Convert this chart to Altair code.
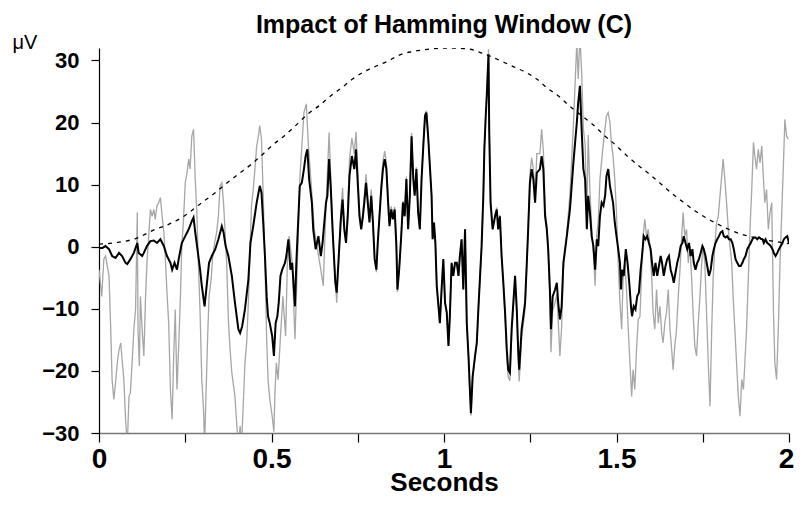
import altair as alt
import pandas as pd

# ---- data ----
gray_t = [0.000, 0.008, 0.014, 0.019, 0.029, 0.034, 0.038, 0.043, 0.048, 0.053, 0.058, 0.063, 0.067, 0.072, 0.077, 0.082,
          0.087, 0.091, 0.096, 0.101, 0.106, 0.111, 0.113, 0.117, 0.120, 0.125, 0.130, 0.135, 0.139, 0.144, 0.149, 0.154,
          0.159, 0.163, 0.168, 0.173, 0.178, 0.183, 0.188, 0.192, 0.197, 0.202, 0.207, 0.212, 0.216, 0.221, 0.226, 0.231,
          0.236, 0.240, 0.245, 0.250, 0.255, 0.260, 0.264, 0.269, 0.274, 0.279, 0.284, 0.288, 0.293, 0.298, 0.303, 0.306,
          0.310, 0.315, 0.319, 0.325, 0.329, 0.335, 0.341, 0.346, 0.351, 0.356, 0.361, 0.365, 0.370, 0.375, 0.380, 0.385,
          0.394, 0.399, 0.404, 0.409, 0.413, 0.418, 0.423, 0.428, 0.433, 0.438, 0.442, 0.447, 0.452, 0.457, 0.462, 0.466,
          0.471, 0.476, 0.481, 0.486, 0.490, 0.495, 0.502, 0.507, 0.510, 0.514, 0.519, 0.526, 0.533, 0.541, 0.546, 0.551,
          0.560, 0.568, 0.572, 0.578, 0.582, 0.588, 0.594, 0.601, 0.607, 0.614, 0.624, 0.633, 0.643, 0.650, 0.658, 0.667,
          0.672, 0.679, 0.689, 0.695, 0.701, 0.706, 0.711, 0.716, 0.721, 0.726, 0.733, 0.740, 0.745, 0.750, 0.755, 0.760,
          0.765, 0.769, 0.774, 0.779, 0.784, 0.789, 0.794, 0.799, 0.804, 0.808, 0.813, 0.818, 0.823, 0.828, 0.833, 0.838,
          0.842, 0.847, 0.852, 0.857, 0.862, 0.865, 0.870, 0.876, 0.881, 0.886, 0.891, 0.896, 0.901, 0.906, 0.911, 0.915,
          0.920, 0.925, 0.930, 0.935, 0.940, 0.945, 0.949, 0.954, 0.964, 0.967, 0.971, 0.975, 0.979, 0.984, 0.988, 0.993,
          0.998, 1.003, 1.008, 1.013, 1.017, 1.022, 1.027, 1.032, 1.037, 1.042, 1.046, 1.051, 1.056, 1.061, 1.066, 1.071,
          1.075, 1.078, 1.083, 1.090, 1.095, 1.100, 1.104, 1.109, 1.114, 1.117, 1.121, 1.124, 1.129, 1.131, 1.135, 1.141,
          1.148, 1.153, 1.157, 1.162, 1.167, 1.172, 1.177, 1.182, 1.186, 1.191, 1.196, 1.201, 1.206, 1.211, 1.215, 1.218,
          1.225, 1.230, 1.235, 1.240, 1.244, 1.249, 1.254, 1.259, 1.264, 1.269, 1.278, 1.283, 1.288, 1.293, 1.298, 1.302,
          1.307, 1.310, 1.315, 1.322, 1.327, 1.331, 1.336, 1.341, 1.346, 1.356, 1.365, 1.375, 1.385, 1.389, 1.394, 1.399,
          1.404, 1.409, 1.414, 1.418, 1.423, 1.428, 1.433, 1.438, 1.443, 1.447, 1.452, 1.461, 1.471, 1.476, 1.481, 1.485,
          1.490, 1.495, 1.500, 1.505, 1.510, 1.515, 1.519, 1.524, 1.529, 1.534, 1.539, 1.544, 1.548, 1.553, 1.558, 1.563,
          1.568, 1.573, 1.577, 1.582, 1.587, 1.592, 1.597, 1.602, 1.606, 1.611, 1.616, 1.621, 1.626, 1.631, 1.635, 1.640,
          1.645, 1.650, 1.655, 1.660, 1.664, 1.669, 1.674, 1.679, 1.684, 1.689, 1.693, 1.698, 1.703, 1.708, 1.713, 1.718,
          1.722, 1.727, 1.732, 1.737, 1.742, 1.747, 1.751, 1.756, 1.761, 1.766, 1.771, 1.776, 1.780, 1.785, 1.790, 1.795,
          1.800, 1.805, 1.809, 1.814, 1.819, 1.824, 1.829, 1.834, 1.838, 1.843, 1.848, 1.853, 1.858, 1.863, 1.868, 1.872,
          1.877, 1.882, 1.887, 1.892, 1.897, 1.901, 1.906, 1.911, 1.916, 1.921, 1.926, 1.930, 1.935, 1.940, 1.945, 1.950,
          1.955, 1.959, 1.964, 1.969, 1.974, 1.979, 1.984, 1.988, 1.993, 1.998]
gray_v = [-3.7, -8.0, -2.0, -1.5, -4.7, -13.3, -21.4, -24.6, -21.9, -18.7, -16.6, -15.5, -18.2, -21.4, -27.8, -32.0,
          -24.1, -23.5, -18.7, -13.3, -10.1, 5.5, -13.3, -19.2, -8.0, -13.3, -17.6, -8.0, -2.6, 1.7, 6.0, 4.9,
          6.0, 4.4, 6.6, 7.1, 7.9, 4.9, 2.3, -1.5, -7.4, -12.3, -23.0, -27.8, -18.7, -10.1, -23.0, -16.0,
          -8.0, 0.1, 4.4, 10.3, 11.9, 14.1, 12.5, 17.8, 18.9, 10.9, 4.9, -2.6, -10.6, -21.4, -26.2, -32.0,
          -24.1, -14.4, -8.0, -5.3, -2.0, 0.6, 2.3, 4.9, 9.8, 10.3, 7.1, 2.8, -2.6, -11.7, -16.6, -20.3,
          -24.1, -28.4, -32.0, -28.9, -32.0, -25.7, -18.7, -15.5, -9.0, 0.1, 6.6, 9.2, 12.5, 16.2, 17.8, 19.5,
          17.3, 8.2, -2.6, -14.9, -21.4, -24.5, -27.3, -29.8, -23.5, -18.7, -21.4, -14.4, -8.0, -14.4, -2.6, 1.7,
          -2.6, -14.9, -8.0, 2.8, 10.9, 16.2, 21.6, 23.0, 16.2, 10.9, 2.8, -0.4, -3.7, -6.3, 6.6, 18.4,
          10.9, 0.1, -9.0, -2.0, 5.5, 9.5, 3.5, 0.8, 6.0, 14.0, 17.5, 15.0, 18.5, 12.0, 5.7, 3.2,
          5.6, 8.1, 11.7, 8.0, 4.4, 9.2, 4.4, -2.2, -4.1, 0.7, 5.4, 10.1, 13.7, 15.4, 13.6, 7.7,
          3.6, 6.5, 4.7, 6.4, 0.1, -7.3, -3.9, 1.8, 7.4, 5.1, 11.3, 2.9, 8.5, 18.3, 11.2, 8.4,
          12.8, 5.6, 2.9, 11.1, 16.5, 21.4, 21.9, 18.0, 8.3, 1.2, 3.9, 0.6, -6.3, -9.6, -12.3, -6.9,
          -2.0, -9.0, -10.6, -16.0, -11.2, -2.6, -4.7, -2.6, -2.6, -4.7, -1.5, 1.2, -6.9, 2.8, -12.4, -17.8,
          -23.3, -27.2, -21.2, -17.9, -15.8, -9.8, -5.4, 0.1, 8.4, 16.1, 21.6, 24.9, 31.8, 19.4, 7.3, 2.9,
          5.1, 6.3, 2.9, 5.1, -1.6, -6.1, -11.2, -17.6, -21.0, -21.6, -14.2, -9.7, -5.1, -11.0, -18.1, -21.7,
          -14.7, -12.4, -10.0, -2.9, 3.2, 11.7, 14.3, 12.5, 8.2, 15.0, 15.0, 18.9, 15.5, 6.1, 3.5, -0.5,
          -8.8, -17.0, -10.3, -9.0, -7.6, -11.9, -17.6, -12.9, -3.5, 2.3, 8.4, 19.5, 33.0, 27.0, 34.0, 28.0,
          19.0, 16.5, 4.5, 18.0, 9.0, 3.0, -1.0, -6.3, 2.0, 4.0, 10.9, 16.2, 21.1, 21.6, 20.0, 16.8,
          14.6, 10.9, 5.5, -2.6, -9.0, -13.3, -5.3, -2.6, -6.9, -13.3, -18.7, -24.1, -19.8, -23.0, -16.6, -11.7,
          -11.2, -3.7, 1.7, 4.4, 1.7, 2.8, 0.1, -4.7, -10.6, -13.3, -6.9, -12.3, -9.6, -13.9, -15.5, -12.3,
          -10.6, -6.9, -13.3, -16.6, -19.8, -16.0, -13.3, -8.0, -3.7, 1.7, 5.5, 1.7, 2.8, -2.6, 0.1, -5.3,
          -10.6, -16.0, -17.6, -12.3, -8.0, -2.6, 0.1, -2.6, -10.6, -18.7, -25.7, -13.3, -5.3, 0.1, 3.9, 4.9,
          8.2, 11.4, 14.1, 10.9, 7.1, 2.8, 0.1, -2.6, -8.0, -13.3, -18.7, -24.1, -27.3, -21.4, -23.0, -18.7,
          -13.3, -5.3, 2.8, 9.2, 16.8, 14.6, 12.5, 15.7, 13.5, 16.2, 10.9, 7.1, 9.2, 2.8, 5.5, 7.1,
          -10.6, -18.7, -21.4, -13.3, -2.6, 5.5, 13.5, 20.5, 17.8, 17.3]

black_t = [0.000, 0.010, 0.019, 0.029, 0.038, 0.048, 0.058, 0.067, 0.077, 0.082, 0.091, 0.101, 0.111, 0.115, 0.125, 0.130,
           0.139, 0.149, 0.159, 0.168, 0.178, 0.188, 0.197, 0.207, 0.212, 0.219, 0.226, 0.231, 0.240, 0.250, 0.260, 0.269,
           0.274, 0.279, 0.288, 0.293, 0.298, 0.306, 0.313, 0.319, 0.327, 0.337, 0.346, 0.356, 0.361, 0.367, 0.375, 0.385,
           0.394, 0.404, 0.409, 0.415, 0.423, 0.433, 0.439, 0.447, 0.457, 0.466, 0.471, 0.476, 0.481, 0.486, 0.490, 0.495,
           0.502, 0.507, 0.512, 0.517, 0.521, 0.526, 0.531, 0.539, 0.543, 0.549, 0.555, 0.560, 0.568, 0.572, 0.578, 0.582,
           0.588, 0.594, 0.599, 0.604, 0.609, 0.617, 0.621, 0.628, 0.636, 0.643, 0.648, 0.653, 0.658, 0.662, 0.667, 0.672,
           0.677, 0.685, 0.689, 0.695, 0.701, 0.706, 0.711, 0.716, 0.721, 0.726, 0.733, 0.740, 0.745, 0.750, 0.755, 0.760,
           0.765, 0.769, 0.774, 0.779, 0.784, 0.789, 0.794, 0.799, 0.804, 0.808, 0.813, 0.818, 0.823, 0.828, 0.833, 0.838,
           0.842, 0.847, 0.852, 0.857, 0.862, 0.865, 0.870, 0.876, 0.881, 0.886, 0.891, 0.896, 0.901, 0.906, 0.911, 0.915,
           0.920, 0.925, 0.930, 0.935, 0.940, 0.945, 0.949, 0.954, 0.964, 0.967, 0.971, 0.975, 0.979, 0.984, 0.988, 0.993,
           0.998, 1.003, 1.008, 1.013, 1.017, 1.022, 1.027, 1.032, 1.037, 1.042, 1.046, 1.051, 1.056, 1.061, 1.066, 1.071,
           1.075, 1.078, 1.083, 1.090, 1.095, 1.100, 1.104, 1.109, 1.114, 1.117, 1.121, 1.124, 1.129, 1.131, 1.135, 1.141,
           1.148, 1.153, 1.157, 1.162, 1.167, 1.172, 1.177, 1.182, 1.186, 1.191, 1.196, 1.201, 1.206, 1.211, 1.215, 1.218,
           1.225, 1.230, 1.235, 1.240, 1.244, 1.249, 1.254, 1.259, 1.264, 1.269, 1.278, 1.283, 1.288, 1.293, 1.298, 1.302,
           1.307, 1.310, 1.315, 1.322, 1.327, 1.331, 1.336, 1.341, 1.346, 1.356, 1.365, 1.375, 1.385, 1.389, 1.394, 1.399,
           1.404, 1.409, 1.414, 1.418, 1.423, 1.428, 1.433, 1.438, 1.443, 1.447, 1.452, 1.457, 1.462, 1.467, 1.471, 1.476,
           1.481, 1.490, 1.495, 1.500, 1.505, 1.510, 1.513, 1.516, 1.521, 1.527, 1.532, 1.537, 1.542, 1.545, 1.550, 1.555,
           1.560, 1.565, 1.570, 1.574, 1.579, 1.584, 1.589, 1.594, 1.599, 1.603, 1.608, 1.613, 1.618, 1.623, 1.628, 1.632,
           1.637, 1.642, 1.647, 1.652, 1.657, 1.662, 1.666, 1.671, 1.676, 1.681, 1.686, 1.691, 1.695, 1.700, 1.705, 1.710,
           1.715, 1.720, 1.724, 1.729, 1.734, 1.739, 1.744, 1.749, 1.753, 1.758, 1.763, 1.768, 1.773, 1.778, 1.782, 1.787,
           1.792, 1.797, 1.802, 1.807, 1.811, 1.816, 1.821, 1.826, 1.831, 1.836, 1.840, 1.845, 1.850, 1.855, 1.860, 1.865,
           1.869, 1.874, 1.879, 1.884, 1.889, 1.894, 1.898, 1.903, 1.908, 1.913, 1.918, 1.923, 1.927, 1.932, 1.937, 1.942,
           1.947, 1.952, 1.956, 1.961, 1.966, 1.971, 1.976, 1.981, 1.985, 1.990, 1.995, 2.000]
black_v = [-0.2, -0.2, 0.1, -0.4, -1.5, -1.8, -1.0, -1.5, -2.6, -2.8, -2.0, -1.0, 0.6, -1.0, -1.5, -1.0,
           0.1, 0.9, 1.0, 0.6, 1.2, 0.1, -1.5, -2.6, -3.7, -2.6, -3.7, -2.0, 0.6, 1.7, 2.8, 4.1,
           4.7, 2.3, -1.5, -3.7, -6.3, -9.6, -5.8, -2.6, -1.5, -0.4, 1.2, 3.3, 2.3, 0.1, -1.5, -4.7,
           -9.0, -13.3, -13.9, -12.8, -10.1, -5.3, 0.6, 3.3, 7.1, 9.8, 8.7, 3.9, -1.5, -8.0, -11.2, -12.3,
           -14.4, -17.6, -12.3, -11.2, -9.0, -4.7, -3.7, -2.6, -1.5, 1.2, -3.7, -2.6, -9.6, -2.6, 4.9, 9.8,
           10.3, 12.5, 14.6, 15.7, 10.9, 7.1, 2.8, -0.4, 1.7, -1.5, 0.6, 3.9, 7.1, 8.2, 14.1, 9.2,
           2.8, -5.8, -7.4, -1.5, 4.4, 7.6, 2.8, 0.6, 4.9, 11.4, 14.6, 12.5, 15.7, 10.3, 4.9, 2.8,
           4.9, 7.1, 10.3, 7.1, 3.9, 8.2, 3.9, -2.0, -3.7, 0.6, 4.9, 9.2, 12.5, 14.1, 12.5, 7.1,
           3.3, 6.0, 4.4, 6.0, 0.1, -6.9, -3.7, 1.7, 7.1, 4.9, 10.9, 2.8, 8.2, 17.8, 10.9, 8.2,
           12.5, 5.5, 2.8, 10.9, 16.2, 21.1, 21.6, 17.8, 8.2, 1.2, 3.9, 0.6, -6.3, -9.6, -12.3, -6.9,
           -2.0, -9.0, -10.6, -16.0, -11.2, -2.6, -4.7, -2.6, -2.6, -4.7, -1.5, 1.2, -6.9, 2.8, -12.3, -17.6,
           -23.0, -26.8, -20.9, -17.6, -15.5, -9.6, -5.3, 0.1, 8.2, 15.7, 21.1, 24.3, 31.0, 18.9, 7.1, 2.8,
           4.9, 6.0, 2.8, 4.9, -1.5, -5.8, -10.6, -16.6, -19.8, -20.3, -13.3, -9.0, -4.7, -10.1, -16.6, -19.8,
           -13.3, -11.2, -9.0, -2.6, 2.8, 10.3, 12.5, 10.9, 7.1, 11.9, 12.5, 14.6, 12.5, 4.9, 2.8, -0.4,
           -6.9, -13.3, -8.0, -6.9, -5.8, -9.0, -11.7, -9.6, -2.6, 1.7, 6.0, 13.5, 20.0, 23.2, 25.9, 18.9,
           12.5, 10.9, 2.8, 8.2, 5.5, 1.7, 0.1, -3.7, 1.2, 0.1, 4.9, 7.1, 6.6, 8.2, 11.4, 12.5,
           9.8, 7.1, 3.9, 1.7, -0.4, -2.6, -6.9, -3.7, -4.7, -0.4, -2.6, -5.8, -9.6, -11.2, -9.6, -10.1,
           -8.0, -7.4, -3.7, -1.5, 1.7, 1.2, 1.7, 0.6, -0.4, -2.6, -4.7, -2.6, -4.7, -3.1, -1.5, -2.6,
           -4.7, -3.1, -2.0, -1.5, -3.7, -4.7, -5.8, -4.2, -2.6, -1.5, 0.1, 0.6, 1.7, 0.6, -0.4, 0.6,
           -1.5, -0.4, -2.6, -3.7, -2.6, -2.0, -1.0, 0.1, -0.4, -1.5, -3.1, -4.7, -3.7, -1.5, -0.4, 0.6,
           1.2, 1.7, 2.3, 2.5, 1.7, 1.5, 1.7, 1.2, 1.2, 0.6, -0.4, -2.0, -2.6, -3.1, -3.1, -2.6,
           -2.0, -1.5, -0.4, 0.1, 0.6, 1.2, 1.5, 1.5, 1.2, 1.5, 1.3, 1.2, 0.6, 1.2, 0.6, 0.4,
           0.1, -0.4, -1.0, -1.5, -1.0, -0.4, 0.1, 0.6, 1.2, 1.5, 1.7, 0.6]

win_t = [0.000, 0.067, 0.106, 0.163, 0.202, 0.240, 0.298, 0.337, 0.365, 0.404, 0.442, 0.471, 0.502, 0.536, 0.570, 0.604,
         0.638, 0.672, 0.701, 0.735, 0.769, 0.804, 0.838, 0.872, 0.906, 0.940, 0.969, 1.017, 1.075, 1.104, 1.162, 1.201,
         1.240, 1.269, 1.298, 1.331, 1.365, 1.399, 1.433, 1.467, 1.495, 1.529, 1.563, 1.597, 1.631, 1.660, 1.693, 1.727,
         1.761, 1.795, 1.829, 1.863, 1.897, 1.930, 1.964, 2.000]
win_v = [0.4, 0.8, 1.3, 2.8, 3.6, 4.7, 7.1, 8.7, 10.0, 11.7, 13.3, 14.7, 16.3, 17.8, 19.5, 21.3,
         22.7, 24.3, 25.5, 27.0, 28.2, 29.1, 29.9, 30.9, 31.4, 31.7, 31.9, 32.0, 31.8, 31.3, 30.0, 29.0,
         28.0, 27.0, 25.6, 24.3, 22.6, 21.1, 19.6, 17.8, 16.5, 14.7, 13.1, 11.6, 10.0, 8.6, 7.2, 5.8,
         4.6, 3.6, 2.7, 2.0, 1.5, 1.1, 0.8, 0.5]

x_ticks = [0, 0.25, 0.5, 0.75, 1, 1.25, 1.5, 1.75, 2]
y_ticks = [-30, -20, -10, 0, 10, 20, 30]

title_text = "Impact of Hamming Window (C)"
x_title = "Seconds"
y_title = "\u03bcV"

FONT = "Liberation Sans"

gray_df = pd.DataFrame({"t": gray_t, "v": gray_v})
black_df = pd.DataFrame({"t": black_t, "v": black_v})
win_df = pd.DataFrame({"t": win_t, "v": win_v})

xscale = alt.Scale(domain=[0, 2], nice=False)
yscale = alt.Scale(domain=[-30, 32], nice=False, zero=False)

xaxis = alt.Axis(
    values=x_ticks,
    labelExpr="datum.value % 0.5 === 0 ? format(datum.value, '~g') : ''",
    labelOffset={"condition": {"test": "datum.value === 2", "value": -3}, "value": 0},
    tickSize=9, tickColor="black", tickWidth=1.2,
    domainColor="#777777", domainWidth=1.5,
    labelFont=FONT, labelFontSize=28, labelFontWeight="bold", labelColor="black",
    labelPadding=3, labelFlush=False,
    title=x_title, titleFont=FONT, titleFontSize=26, titleFontWeight="bold", titleColor="black",
    titlePadding=-4, grid=False,
)
yaxis = alt.Axis(
    values=y_ticks,
    tickSize=8, tickColor="black", tickWidth=1.2,
    domainColor="black", domainWidth=1.2,
    labelFont=FONT, labelFontSize=22, labelFontWeight="bold", labelColor="black",
    labelPadding=12,
    title=y_title, titleFont=FONT, titleFontSize=20, titleFontWeight="normal", titleColor="black",
    titleAngle=0, titleAlign="left", titleBaseline="alphabetic", titleX=-87, titleY=0,
    grid=False,
)

gray = alt.Chart(gray_df).mark_line(color="#a6a6a6", strokeWidth=1.3, clip=True).encode(
    x=alt.X("t:Q", scale=xscale, axis=xaxis),
    y=alt.Y("v:Q", scale=yscale, axis=yaxis),
)
window = alt.Chart(win_df).mark_line(color="black", strokeWidth=1.3, strokeDash=[4, 5], interpolate="monotone", clip=True).encode(
    x=alt.X("t:Q", scale=xscale),
    y=alt.Y("v:Q", scale=yscale),
)
black = alt.Chart(black_df).mark_line(color="black", strokeWidth=2, clip=True).encode(
    x=alt.X("t:Q", scale=xscale),
    y=alt.Y("v:Q", scale=yscale),
)

chart = alt.layer(gray, window, black).properties(
    width=690, height=385,
    title=alt.TitleParams(title_text, font=FONT, fontSize=25, fontWeight="bold", color="black",
                          anchor="middle", frame="group", baseline="alphabetic", offset=0, dy=26),
    autosize=alt.AutoSizeParams(type="none"),
    padding={"left": 91, "top": 40, "right": 5, "bottom": 64},
).configure_view(stroke=None)

chart.save("out.html", embed_options={"renderer": "svg", "actions": False})
